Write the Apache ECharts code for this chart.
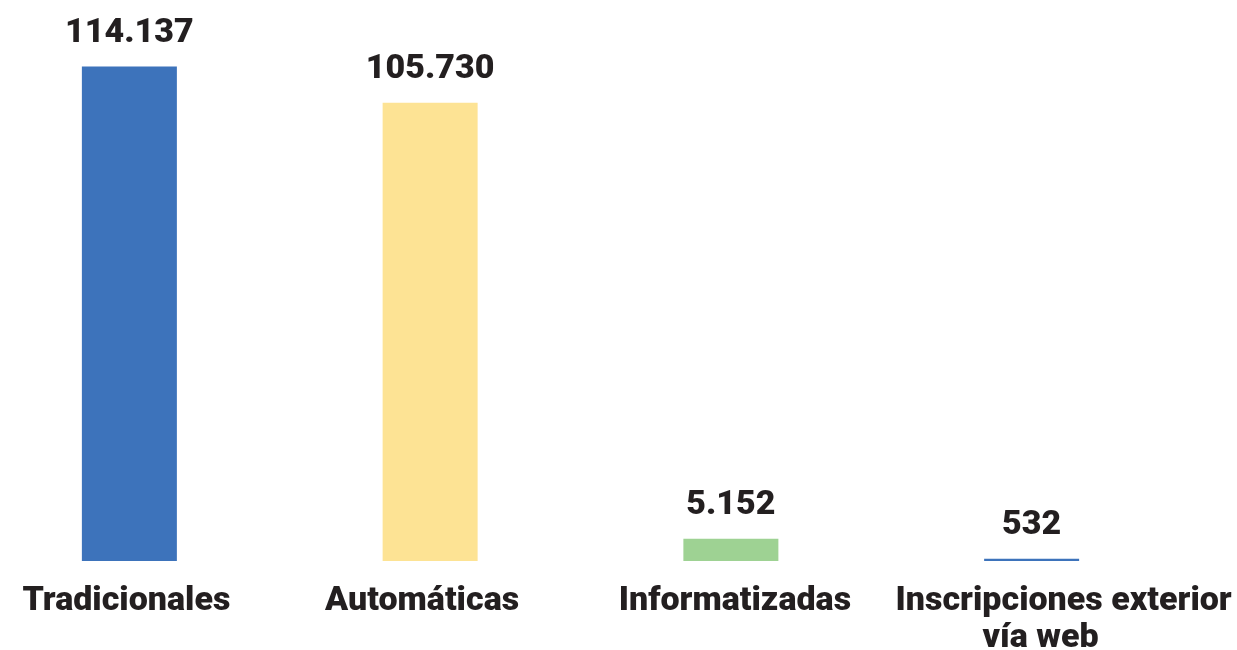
<!DOCTYPE html>
<html>
<head>
<meta charset="utf-8">
<script src="https://cdn.jsdelivr.net/npm/echarts@6/dist/echarts.min.js"></script>
<style>
  html, body { margin: 0; padding: 0; background: #fff; }
  #chart { width: 1237px; height: 650px; }
</style>
</head>
<body>
<div id="chart"></div>
<script>
// categories and values
var categories = ['Tradicionales', 'Automáticas', 'Informatizadas', 'Inscripciones exterior\nvía web'];
var values = [114137, 105730, 5152, 532];
var barColors = ['#3d73bb', '#fde394', '#9ed293', '#3d73bb'];

function fmt(v) {
    return String(v).replace(/\B(?=(\d{3})+(?!\d))/g, '.');
}

var chart = echarts.init(document.getElementById('chart'));

var txt = { fontFamily: 'Roboto', fontWeight: 900, fontSize: 34, color: '#231f20' };
function rs(pad) {
    return { fontFamily: txt.fontFamily, fontWeight: txt.fontWeight, fontSize: txt.fontSize, color: txt.color, padding: pad, lineHeight: 37 };
}

var option = {
    animation: false,
    grid: {
        left: -21,
        right: 55,
        top: 41,
        bottom: 89,
        outerBoundsMode: 'none'
    },
    xAxis: {
        type: 'category',
        data: categories,
        axisLine: { show: false },
        axisTick: { show: false },
        axisLabel: {
            interval: 0,
            margin: 22,
            fontFamily: txt.fontFamily,
            fontWeight: txt.fontWeight,
            fontSize: txt.fontSize,
            color: txt.color,
            formatter: function (v, i) {
                if (v.indexOf('\n') >= 0) {
                    var p = v.split('\n');
                    return '{a|' + p[0] + '}\n{b|' + p[1] + '}';
                }
                return '{c' + i + '|' + v + '}';
            },
            rich: {
                a: rs([0, 0, 0, 64]),
                b: rs([0, 0, 0, 18]),
                c0: rs([0, 6, 0, 0]),
                c1: rs([0, 16, 0, 0]),
                c2: rs([0, 0, 0, 8])
            }
        }
    },
    yAxis: {
        type: 'value',
        min: 0,
        max: 120000,
        show: false,
        splitLine: { show: false }
    },
    series: [
        {
            type: 'bar',
            barWidth: 95,
            data: values.map(function (v, i) {
                return { value: v, itemStyle: { color: barColors[i] } };
            }),
            label: {
                show: true,
                position: 'top',
                distance: 16,
                fontFamily: txt.fontFamily,
                fontWeight: txt.fontWeight,
                fontSize: 34,
                color: txt.color,
                formatter: function (p) { return fmt(p.value); }
            }
        }
    ]
};

chart.setOption(option);
</script>
</body>
</html>
